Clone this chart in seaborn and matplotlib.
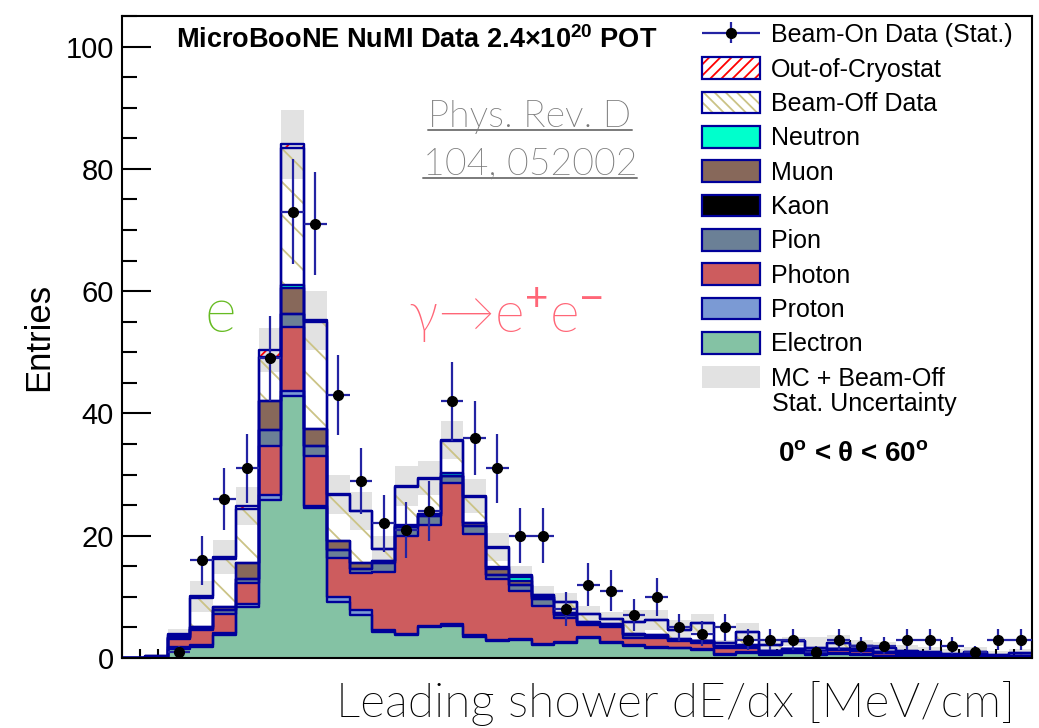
import os
import numpy as np
import pandas as pd
import matplotlib
matplotlib.use("Agg")
import matplotlib.pyplot as plt
import seaborn as sns
from matplotlib import font_manager as fm
from matplotlib.patches import Patch
from matplotlib.lines import Line2D
from matplotlib.container import ErrorbarContainer
from matplotlib.ticker import MultipleLocator, NullFormatter
from matplotlib.legend_handler import HandlerErrorbar, HandlerTuple

# ---------------- data ----------------
bin_low = 0.0
bin_width = 0.25
n_bins = 40

electron = [0, 0.2, 1.5, 1.85, 3.8, 8.4, 25.9, 42.8, 24.5, 9.2, 7.0, 4.3, 3.8, 5.0, 5.2, 3.5,
            2.7, 2.9, 2.1, 2.4, 3.2, 2.4, 2.0, 1.6, 1.6, 1.3, 0.5, 0.8, 0.5, 0.8, 0.5, 0.7,
            0.5, 0.4, 0.3, 0.3, 0.2, 0.3, 0.1, 0.2]
proton = [0, 0, 0.35, 0.25, 0.3, 0.4, 0.8, 0.8, 0.4, 0.8, 0.9, 0.2, 0.2, 0.3, 0.4, 0.3,
          0.3, 0.2, 0.2, 0.2, 0.2, 0.2, 0.2, 0.2, 0.1, 0.1, 0.1, 0.1, 0.1, 0.1, 0.1, 0.1,
          0.1, 0, 0, 0, 0, 0, 0, 0]
photon = [0, 0, 1.2, 2.5, 3.05, 3.4, 7.9, 10.6, 8.2, 6.3, 6.0, 9.5, 15.9, 16.5, 23.0, 16.5,
          9.9, 7.9, 6.2, 3.9, 2.0, 2.4, 1.0, 1.4, 1.0, 1.1, 1.0, 0.7, 0.4, 0.3, 0.4, 0.5,
          0.6, 0.4, 0.4, 0.2, 0.2, 0.3, 0.2, 0.2]
pion = [0, 0, 0.25, 0.2, 0.7, 0.8, 2.7, 2.1, 1.6, 1.4, 0.7, 1.5, 1.5, 1.4, 1.1, 1.3,
        0.7, 1.0, 1.1, 0.5, 0.3, 0.4, 0.5, 0.4, 0.2, 0.2, 0.2, 0.3, 0.2, 0.3, 0.2, 0.2,
        0.2, 0.1, 0.1, 0.1, 0.1, 0, 0, 0]
kaon = [0.0] * 40
muon = [0, 0, 0.2, 0.2, 0.55, 2.6, 4.7, 4.2, 2.7, 1.4, 0.9, 0.3, 0.2, 0.4, 0.1, 0.4,
        1.0, 0.6, 0.3, 0.3, 0.2, 0.2, 0.2, 0.2, 0.2, 0.1, 0.2, 0.2, 0, 0, 0, 0,
        0, 0, 0, 0, 0, 0, 0, 0]
neutron = [0, 0, 0, 0, 0, 0, 0.1, 0.5, 0.1, 0.1, 0, 0, 0.2, 0, 0.5, 0,
           0.3, 0.6, 0, 0, 0, 0, 0, 0, 0, 0, 0, 0, 0, 0, 0, 0,
           0, 0, 0, 0, 0, 0, 0, 0]
beam_off = [0, 0.1, 0.2, 4.8, 7.8, 8.8, 7.2, 22.4, 17.5, 7.5, 8.5, 2.0, 6.2, 5.7, 5.2, 4.4,
            3.1, 0.2, 0.4, 1.8, 1.3, 0.7, 2.0, 2.4, 1.5, 2.9, 0.4, 2.2, 0.9, 1.2, 0.4, 0.9,
            0.5, 0.7, 0.4, 0.4, 0.2, 0.4, 0.2, 0.4]
out_of_cryo = [0, 0, 0.2, 0.3, 0.3, 0.4, 1.1, 0.6, 0.2, 0.1, 0.1, 0, 0.1, 0.1, 0.1, 0.1,
               0.1, 0.1, 0, 0, 0, 0, 0, 0, 0, 0, 0, 0, 0, 0, 0, 0,
               0, 0, 0, 0, 0, 0, 0, 0]
stat_unc = [0, 0.3, 0.8, 2.5, 2.8, 3.1, 3.6, 5.6, 4.8, 3.2, 3.1, 2.2, 3.3, 2.8, 3.1, 2.8,
            2.3, 1.6, 1.5, 1.6, 1.3, 1.3, 2.0, 1.7, 1.6, 1.5, 0.6, 1.5, 0.6, 0.8, 1.9, 1.4,
            1.0, 1.0, 0.9, 0.8, 0.7, 0.8, 0.6, 0.7]
beam_on_data = [0, 0, 1, 16, 26, 31, 49, 73, 71, 43, 29, 22, 21, 24, 42, 36,
                31, 20, 20, 8, 12, 11, 7, 10, 5, 4, 5, 3, 3, 3, 1, 3,
                2, 2, 3, 3, 2, 1, 3, 3]

components = ["Out-of-Cryostat", "Beam-Off Data", "Neutron", "Muon", "Kaon",
              "Pion", "Photon", "Proton", "Electron"]
y_ticks = [0, 20, 40, 60, 80, 100]

# ---------------- style ----------------
NAVY = "#000099"
ERRC = "#2323a3"
KHAKI = "#cbc386"
UNC = "#e2e2e2"
colors = {"Out-of-Cryostat": "#fcfcfc", "Beam-Off Data": "#fdfdfd",
          "Neutron": "#00ffcc", "Muon": "#87685a", "Kaon": "#000000",
          "Pion": "#6b8096", "Photon": "#cd5c5e", "Proton": "#7b9ad4",
          "Electron": "#84c2a4"}

sns.set_style("ticks")
plt.rcParams["font.family"] = ["Liberation Sans", "DejaVu Sans"]
plt.rcParams["mathtext.fontset"] = "custom"
plt.rcParams["mathtext.rm"] = "Liberation Sans"
plt.rcParams["mathtext.bf"] = "Liberation Sans:bold"
plt.rcParams["mathtext.it"] = "Liberation Sans:italic"
plt.rcParams["hatch.linewidth"] = 1.3
for k in ["text.color", "axes.labelcolor", "xtick.color", "ytick.color", "axes.edgecolor"]:
    plt.rcParams[k] = "black"

# a light humanist face standing in for Gill Sans Light
gill_family, gill_weight = "Lato", "normal"
for f in fm.fontManager.ttflist:
    b = os.path.basename(f.fname).lower()
    if "lato" in b and "light" in b and "italic" not in b:
        gill_family, gill_weight = f.name, f.weight
        break
GILL = dict(family=[gill_family, "DejaVu Sans"], fontweight=gill_weight)

values = {"Out-of-Cryostat": out_of_cryo, "Beam-Off Data": beam_off, "Neutron": neutron,
          "Muon": muon, "Kaon": kaon, "Pion": pion, "Photon": photon,
          "Proton": proton, "Electron": electron}

edges = bin_low + bin_width * np.arange(n_bins + 1)
centers = edges[:-1] + bin_width / 2
x_range = (float(edges[0]), float(edges[-1]))

rows = []
for comp in components:
    for c, v in zip(centers, values[comp]):
        rows.append((float(c), float(v), comp))
df = pd.DataFrame(rows, columns=["dedx", "w", "comp"])

total = np.sum([np.array(values[c], dtype=float) for c in components], axis=0)
unc = np.array(stat_unc, dtype=float)
data = np.array(beam_on_data, dtype=float)

fig = plt.figure(figsize=(10.39, 7.28), dpi=100)
W, H = 1039.0, 728.0
ax = fig.add_axes([122 / W, 70 / H, 910 / W, 642 / H])

# stat. uncertainty boxes (behind the stack)
ax.bar(centers, 2 * unc, bottom=total - unc, width=bin_width, color=UNC,
       linewidth=0, zorder=0.5)

# filled stack
sns.histplot(data=df, x="dedx", weights="w", hue="comp", hue_order=components,
             palette=colors, binwidth=bin_width, binrange=x_range, multiple="stack",
             element="step", fill=True, alpha=1, linewidth=0, legend=False, ax=ax)
for coll in ax.collections:
    fc = coll.get_facecolor()
    if len(fc) == 0:
        continue
    fc = fc[0]
    if np.allclose(fc[:3], matplotlib.colors.to_rgb(colors["Beam-Off Data"]), atol=1e-3):
        coll.set_facecolor("none")
        coll.set_edgecolor(KHAKI)
        coll.set_linewidth(0)
        coll.set_hatch("\\")
    elif np.allclose(fc[:3], matplotlib.colors.to_rgb(colors["Out-of-Cryostat"]), atol=1e-3):
        coll.set_facecolor("none")
        coll.set_edgecolor("red")
        coll.set_linewidth(0)
        coll.set_hatch("//")

# outlines of each layer
sns.histplot(data=df, x="dedx", weights="w", hue="comp", hue_order=components,
             palette={c: NAVY for c in components}, binwidth=bin_width, binrange=x_range,
             multiple="stack", element="step", fill=False, linewidth=1.7, legend=False, ax=ax)

# beam-on data
m = data > 0
h_data = ax.errorbar(centers[m], data[m], yerr=np.sqrt(data[m]), xerr=bin_width / 2,
                     fmt="o", color="black", markersize=7, ecolor=ERRC,
                     elinewidth=1.6, capsize=0, zorder=6)

# axes cosmetics
ax.set_xlim(*x_range)
ax.set_ylim(0, 105)
ax.set_yticks(y_ticks)
ax.yaxis.set_minor_locator(MultipleLocator(5))
ax.xaxis.set_major_locator(MultipleLocator(1))
ax.xaxis.set_minor_locator(MultipleLocator(0.2))
ax.xaxis.set_major_formatter(NullFormatter())
ax.tick_params(axis="y", which="major", direction="in", length=21, width=1.5,
               labelsize=21, pad=6)
ax.tick_params(axis="y", which="minor", direction="in", length=11, width=1.5)
ax.tick_params(axis="x", which="major", direction="in", length=13, width=1.5)
ax.tick_params(axis="x", which="minor", direction="in", length=6.5, width=1.5)
for s in ax.spines.values():
    s.set_linewidth(1.5)
    s.set_color("black")
    s.set_visible(True)

ax.set_ylabel("Entries", fontsize=25)
ax.yaxis.set_label_coords((55 - 122) / 910, 0.5)
ax.set_xlabel("Leading shower dE/dx [MeV/cm]", fontsize=34.5, ha="right",
              va="baseline", **GILL)
ax.xaxis.set_label_coords((1015 - 122) / 910, (658 - 717) / 642)

# texts
ax.text((176 - 122) / 910, (658 - 48) / 642,
        r"MicroBooNE NuMI Data 2.4×10$^{\mathbf{20}}$ POT",
        transform=ax.transAxes, fontsize=19.5, fontweight="bold", va="baseline")
ax.text((778 - 122) / 910, (658 - 461) / 642, r"0$^{\mathbf{o}}$ < θ < 60$^{\mathbf{o}}$",
        transform=ax.transAxes, fontsize=20, fontweight="bold", va="baseline")
ax.text((220 - 122) / 910, (658 - 332) / 642, "e", transform=ax.transAxes,
        fontsize=44, color="#66bb22", ha="center", va="baseline", **GILL)
ax.text((408 - 122) / 910, (658 - 332) / 642, r"γ→e$^{+}$e$^{-}$", transform=ax.transAxes,
        fontsize=41, color="#ff6677", ha="left", va="baseline", **GILL)
ref_texts = []
for txt, yb in [("Phys. Rev. D", 127), ("104, 052002", 175)]:
    t = ax.text((530 - 122) / 910, (658 - yb) / 642, txt, transform=ax.transAxes,
                fontsize=27, color="#7a7a7a", ha="center", va="baseline", **GILL)
    ref_texts.append((t, yb))

# legend
def box(c):
    return Patch(facecolor=c, edgecolor=NAVY, linewidth=1.6)

handles = [h_data,
           (Patch(facecolor="white", edgecolor="red", hatch="///", linewidth=0),
            Patch(facecolor="none", edgecolor=NAVY, linewidth=1.6)),
           (Patch(facecolor="white", edgecolor=KHAKI, hatch="\\\\\\", linewidth=0),
            Patch(facecolor="none", edgecolor=NAVY, linewidth=1.6)),
           box(colors["Neutron"]), box(colors["Muon"]), box(colors["Kaon"]),
           box(colors["Pion"]), box(colors["Photon"]), box(colors["Proton"]),
           box(colors["Electron"]),
           Patch(facecolor=UNC, edgecolor="none")]
labels = ["Beam-On Data (Stat.)", "Out-of-Cryostat", "Beam-Off Data", "Neutron", "Muon",
          "Kaon", "Pion", "Photon", "Proton", "Electron", "MC + Beam-Off"]
leg = ax.legend(handles, labels, loc="upper left",
                bbox_to_anchor=(702 / W, (H - 23) / H), bbox_transform=fig.transFigure,
                frameon=False, fontsize=18, borderpad=0, borderaxespad=0,
                handlelength=2.32, handleheight=0.96, handletextpad=0.44,
                labelspacing=0.395,
                handler_map={ErrorbarContainer: HandlerErrorbar(xerr_size=1.16, yerr_size=0.42,
                                                                numpoints=1),
                             tuple: HandlerTuple(ndivide=1, pad=0)})
fig.text(772 / W, (H - 404) / H, "Stat. Uncertainty", fontsize=18, va="center", ha="left")

# underline the reference text
fig.canvas.draw()
renderer = fig.canvas.get_renderer()
for t, yb in ref_texts:
    bb = t.get_window_extent(renderer)
    ybase = ax.transAxes.transform((0, (658 - yb) / 642))[1] - 3
    fig.add_artist(Line2D([bb.x0 / fig.bbox.width, bb.x1 / fig.bbox.width],
                          [ybase / fig.bbox.height] * 2, color="#7a7a7a", lw=1.4))

fig.savefig("out.png", dpi=100)
